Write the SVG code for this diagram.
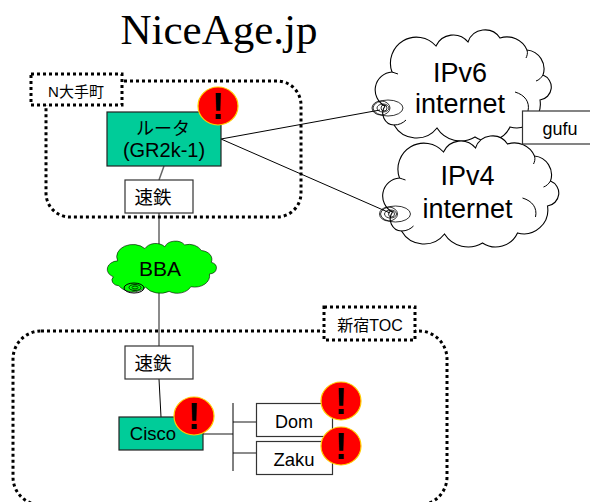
<svg xmlns="http://www.w3.org/2000/svg" width="590" height="502" viewBox="0 0 590 502">
<style>
text{font-family:"Liberation Sans","Noto Sans CJK JP",sans-serif;fill:#000;text-anchor:middle}
.title{font-family:"Liberation Serif",serif;font-size:43px}
.dot{fill:none;stroke:#000;stroke-width:3;stroke-dasharray:3 3}
.lab{fill:#fff;stroke:#000;stroke-width:3;stroke-dasharray:3 3}
.box{fill:#fff;stroke:#333;stroke-width:1.2}
.grn{fill:#00cc99;stroke:#222;stroke-width:1.2}
.ln{stroke:#000;stroke-width:1;fill:none}
.thin{stroke:#000;stroke-width:.8;fill:none}
.gl{stroke:#666;stroke-width:1.5;fill:none}
.bad{fill:#f00;stroke:#fc0;stroke-width:1.2}
.ex{font-size:36px;font-weight:bold}
.cl{stroke:#000;stroke-width:1.1;vector-effect:non-scaling-stroke}
.hk{fill:none;stroke:#000;stroke-width:1;vector-effect:non-scaling-stroke}
</style>
<defs>
<path id="cloud" d="M385 106 A18 18 0 0 1 392 72 A26 26 0 0 1 436 46 A19 19 0 0 1 468 42 A18 18 0 0 1 500 38 A22 22 0 0 1 527 50 A19 19 0 0 1 543 75 A13 13 0 0 1 540 100 A24 24 0 0 1 510 127 A24 24 0 0 1 475 137 A28 28 0 0 1 437 128 A26 26 0 0 1 394 125 A12 12 0 0 1 385 106 Z"/>
<g id="hooks" class="hk"><path d="M392 72 C394 73 396 73 398 74"/><path d="M527 50 C528 53 527 56 526 58"/><path d="M543 75 C541 78 539 80 536 81"/><path d="M515 92 C525 95 530 102 528 111"/><path d="M394 125 C399 125 403 123 406 120"/></g>
</defs>
<text class="title" x="219" y="44">NiceAge.jp</text>
<g id="connectors">
<path class="ln" d="M221 139L380 110M221 139L390 213"/>
<path class="gl" d="M164 166L159 180M159 213V346"/>
<path class="ln" d="M159 379L161 417"/>
<path class="gl" d="M203 434H233M233 422H256M233 453H256"/>
<path class="ln" d="M233 403V471"/>
</g>
<g id="osaka-area"><rect class="dot" x="46" y="81" width="255" height="136" rx="24"/></g>
<g id="osaka-label"><rect class="lab" x="31" y="74" width="91" height="31"/><text x="76" y="97" font-size="15">N大手町</text></g>
<g id="shinjuku-area"><rect class="dot" x="13" y="331" width="434" height="174" rx="28"/></g>
<g id="shinjuku-label"><rect class="lab" x="324" y="307" width="91" height="33"/><text x="370" y="331" font-size="16">新宿TOC</text></g>
<g id="ipv6">
<use href="#cloud" fill="#fff" class="cl"/><use href="#hooks"/>
<ellipse class="thin" cx="388" cy="108" rx="15" ry="8"/><ellipse class="thin" cx="381" cy="108" rx="9" ry="7"/><ellipse class="thin" cx="383" cy="108" rx="6" ry="4"/><circle class="thin" cx="384" cy="108" r="3"/>
<text x="460" y="82" font-size="27">IPv6</text><text x="460" y="113" font-size="27">internet</text>
</g>
<g id="ipv4" transform="translate(7.5 106)">
<use href="#cloud" fill="#fff" class="cl"/><use href="#hooks"/>
<ellipse class="thin" cx="388" cy="108" rx="15" ry="8"/><ellipse class="thin" cx="381" cy="108" rx="9" ry="7"/><ellipse class="thin" cx="383" cy="108" rx="6" ry="4"/><circle class="thin" cx="384" cy="108" r="3"/>
<text x="460" y="79" font-size="27">IPv4</text><text x="460" y="112" font-size="27">internet</text>
</g>
<g id="gufu"><rect class="box" x="522.500" y="111" width="70" height="33"/><text x="560" y="135" font-size="18">gufu</text></g>
<g id="router"><rect class="grn" x="107" y="112" width="114" height="54"/><text x="163" y="135" font-size="18">ルータ</text><text x="164" y="157" font-size="20">(GR2k-1)</text></g>
<g id="router-alert"><ellipse class="bad" cx="218" cy="106" rx="20" ry="19"/><text class="ex" x="218" y="119">!</text></g>
<g id="sokutetsu1"><rect class="box" x="125" y="180" width="68" height="33"/><text x="153" y="204" font-size="18.500">速鉄</text></g>
<g id="bba">
<use href="#cloud" fill="#0f0" class="cl" transform="translate(109 243) scale(.62 .47) translate(-378 -34)"/>
<ellipse class="ln" cx="134" cy="288" rx="10" ry="5" fill="#0f0"/><ellipse class="thin" cx="135" cy="287.500" rx="6" ry="3"/><ellipse class="thin" cx="135" cy="287.500" rx="3" ry="1.500"/>
<text x="160" y="276" font-size="21">BBA</text>
</g>
<g id="sokutetsu2"><rect class="box" x="125" y="346" width="68" height="33"/><text x="153" y="370" font-size="18.500">速鉄</text></g>
<g id="cisco"><rect class="grn" x="119" y="417" width="84" height="33"/><text x="153" y="440" font-size="18.500">Cisco</text></g>
<g id="cisco-alert"><ellipse class="bad" cx="194" cy="416" rx="20" ry="19"/><text class="ex" x="194" y="429">!</text></g>
<g id="dom"><rect class="box" x="256.500" y="403.500" width="76" height="33"/><text x="294" y="428" font-size="18">Dom</text></g>
<g id="zaku"><rect class="box" x="256.500" y="441.500" width="76" height="33"/><text x="294" y="466" font-size="18.500">Zaku</text></g>
<g id="dom-alert"><ellipse class="bad" cx="341" cy="401" rx="20" ry="19"/><text class="ex" x="341" y="414">!</text></g>
<g id="zaku-alert"><ellipse class="bad" cx="341" cy="446" rx="20" ry="19"/><text class="ex" x="341" y="459">!</text></g>
</svg>
